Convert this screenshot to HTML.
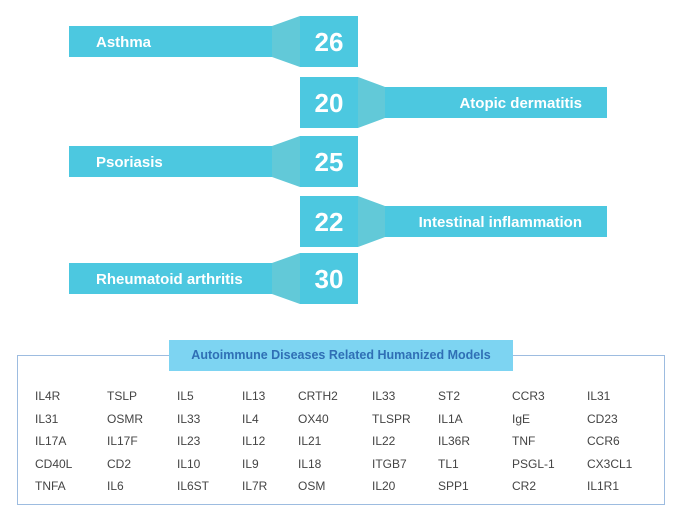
<!DOCTYPE html>
<html><head><meta charset="utf-8">
<style>
body{margin:0;width:677px;height:518px;background:#fff;position:relative;overflow:hidden;font-family:"Liberation Sans",sans-serif}
.a{position:absolute}
.lbl{color:#fff;font-weight:bold;font-size:15px;white-space:nowrap}
.num{color:#fff;font-weight:bold;font-size:25px;text-align:center}
.g{position:absolute;font-size:12px;color:#444;white-space:nowrap}
</style></head><body>
<svg class="a" style="left:0;top:0" width="677" height="320">
<g id="rows"></g>
</svg>
<div class="a" style="left:17px;top:355px;width:646px;height:148px;border:1px solid #9dbce0"></div>
<div class="a" style="left:169px;top:340px;width:344px;height:31px;background:#7dd4f2;color:#2f6fb5;font-weight:bold;font-size:12.5px;line-height:31px;text-align:center">Autoimmune Diseases Related Humanized Models</div>
<div id="genes"></div>
<script>
const diseases=["Asthma","Atopic dermatitis","Psoriasis","Intestinal inflammation","Rheumatoid arthritis"];
const counts=[26,20,25,22,30];
const boxTops=[16,77,136,196,253];
const genes=[["IL4R","TSLP","IL5","IL13","CRTH2","IL33","ST2","CCR3","IL31"],["IL31","OSMR","IL33","IL4","OX40","TLSPR","IL1A","IgE","CD23"],["IL17A","IL17F","IL23","IL12","IL21","IL22","IL36R","TNF","CCR6"],["CD40L","CD2","IL10","IL9","IL18","ITGB7","TL1","PSGL-1","CX3CL1"],["TNFA","IL6","IL6ST","IL7R","OSM","IL20","SPP1","CR2","IL1R1"]];
const ns="http://www.w3.org/2000/svg";
const g=document.getElementById('rows');
function mk(t,attrs){const e=document.createElementNS(ns,t);for(const k in attrs)e.setAttribute(k,attrs[k]);return e;}
diseases.forEach((d,i)=>{
 const top=boxTops[i],bt=top+10,bb=top+41,bot=top+51,left=i%2===0;
 const bar=left?mk('rect',{x:69,y:bt,width:203,height:31,fill:'#4cc8e0'}):mk('rect',{x:385,y:bt,width:222,height:31,fill:'#4cc8e0'});
 
 
 g.appendChild(bar);
 const tp=left?mk('polygon',{points:`272,${bt} 300,${top} 300,${bot} 272,${bb}`,fill:'#62c9d8'}):mk('polygon',{points:`358,${top} 385,${bt} 385,${bb} 358,${bot}`,fill:'#62c9d8'});
 
 
 g.appendChild(tp);
 const box=mk('rect',{x:300,y:top,width:58,height:51,fill:'#4cc8e0'});
 
 
 g.appendChild(box);
 const n=mk('text',{x:329,y:top+35,'text-anchor':'middle',fill:'#fff','font-size':26,'font-weight':'bold','font-family':'Liberation Sans, sans-serif'});
 n.textContent=counts[i];
 
 
 g.appendChild(n);
 const l=mk('text',left?{x:96,y:bt+21}:{x:582,y:bt+21,'text-anchor':'end'});
 l.setAttribute('fill','#fff');l.setAttribute('font-size','15');l.setAttribute('font-weight','bold');l.setAttribute('font-family','Liberation Sans, sans-serif');
 l.textContent=d;
 
 
 g.appendChild(l);
});
const cx=[35,107,177,242,298,372,438,512,587];
const gc=document.getElementById('genes');
genes.forEach((r,ri)=>r.forEach((t,ci)=>{
 const e=document.createElement('div');
 e.className='g';
 e.style.left=cx[ci]+'px';e.style.top=(389+ri*22.5)+'px';
 e.textContent=t;
 
 
 gc.appendChild(e);
}));
</script>
</body></html>
